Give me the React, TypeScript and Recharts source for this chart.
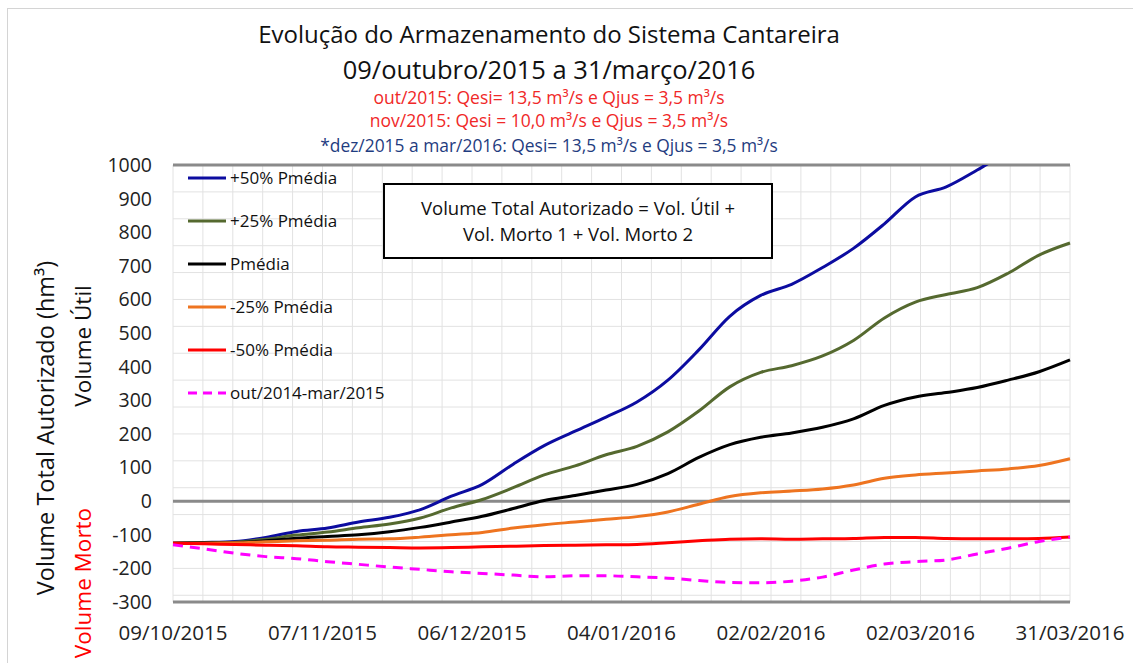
import React from "react";
import { CartesianGrid, Line, LineChart, ReferenceLine, XAxis, YAxis } from "recharts";

// days counted from 09/10/2015
const days = [0, 6, 12, 18, 24, 30, 36, 42, 48, 54, 60, 66, 72, 78, 84, 90, 96, 102, 108, 114, 120, 126, 132, 138, 144, 150, 156, 162, 168, 174];

const plus50 = [-125, -123, -120, -108, -90, -80, -62, -48, -25, 15, 50, 110, 165, 208, 250, 295, 360, 450, 550, 612, 645, 695, 752, 825, 905, 935, 985, 1040, 1085, 1130];
const plus25 = [-125, -124, -122, -113, -101, -92, -79, -68, -50, -20, 5, 40, 78, 105, 138, 163, 206, 268, 340, 383, 403, 432, 478, 545, 592, 615, 635, 678, 732, 768];
const pmedia = [-125, -124, -123, -118, -110, -105, -100, -91, -78, -62, -45, -22, 2, 17, 33, 50, 82, 130, 168, 190, 203, 220, 245, 285, 310, 323, 338, 360, 385, 420];
const minus25 = [-125, -125, -124, -121, -118, -116, -113, -112, -107, -100, -93, -80, -70, -62, -54, -46, -32, -9, 14, 25, 30, 36, 48, 68, 78, 84, 90, 96, 106, 126];
const minus50 = [-125, -127, -129, -131, -133, -136, -137, -138, -139, -138, -136, -134, -132, -131, -130, -129, -124, -118, -113, -112, -113, -112, -111, -108, -108, -111, -112, -112, -111, -107];
const prevYear = [-130, -142, -155, -165, -171, -180, -188, -196, -203, -210, -215, -220, -225, -222, -222, -225, -229, -236, -242, -243, -238, -226, -205, -187, -180, -175, -157, -140, -120, -107];

const xTickDays = [0, 29, 58, 87, 116, 145, 174];
const xTickLabels = ["09/10/2015", "07/11/2015", "06/12/2015", "04/01/2016", "02/02/2016", "02/03/2016", "31/03/2016"];
const yTicks = [-300, -200, -100, 0, 100, 200, 300, 400, 500, 600, 700, 800, 900, 1000];

const series = [
  { key: "p50", name: "+50% Pmédia", color: "#0c0ca0", values: plus50, dash: undefined },
  { key: "p25", name: "+25% Pmédia", color: "#55692f", values: plus25, dash: undefined },
  { key: "pm", name: "Pmédia", color: "#000000", values: pmedia, dash: undefined },
  { key: "m25", name: "-25% Pmédia", color: "#ee7420", values: minus25, dash: undefined },
  { key: "m50", name: "-50% Pmédia", color: "#ff0000", values: minus50, dash: undefined },
  { key: "prev", name: "out/2014-mar/2015", color: "#ff00ff", values: prevYear, dash: "10 7" },
];

const data = days.map((d, i) => {
  const row: Record<string, number> = { d };
  series.forEach((s) => (row[s.key] = s.values[i]));
  return row;
});

const vGrid = Array.from({ length: 31 }, (_, i) => i * 5.8);
const hGrid = Array.from({ length: 66 }, (_, i) => -300 + i * 20);

const FONT = '"Open Sans", sans-serif';

function LegendBox() {
  return (
    <div style={{ position: "absolute", left: 187, top: 156, fontFamily: FONT, fontSize: 17, color: "#111" }}>
      {series.map((s) => (
        <div key={s.key} style={{ display: "flex", alignItems: "center", height: 43 }}>
          <svg width={40} height={6} style={{ marginRight: 3 }}>
            <line x1={1} y1={3} x2={39} y2={3} stroke={s.color} strokeWidth={3} strokeDasharray={s.dash ? "9 6" : undefined} />
          </svg>
          <span>{s.name}</span>
        </div>
      ))}
    </div>
  );
}

const rotated = (left: number, top: number, size: number, color: string): React.CSSProperties => ({
  position: "absolute",
  left,
  top,
  transform: "translate(-50%, -50%) rotate(-90deg)",
  whiteSpace: "nowrap",
  fontSize: size,
  color,
});

export default function App() {
  return (
    <div style={{ position: "absolute", left: 0, top: 0, width: 1133, height: 663, background: "#fff", overflow: "hidden", fontFamily: FONT }}>
      <div style={{ position: "absolute", left: 7, top: 8, width: 1200, height: 700, borderLeft: "1px solid #d4d4d4", borderTop: "1px solid #d4d4d4" }} />
      <div style={{ position: "absolute", left: 0, width: 1098, top: 17, textAlign: "center", fontSize: 24, lineHeight: "34px", color: "#111" }}>
        Evolução do Armazenamento do Sistema Cantareira
      </div>
      <div style={{ position: "absolute", left: 0, width: 1098, top: 52, textAlign: "center", fontSize: 25.5, lineHeight: "34px", color: "#111" }}>
        09/outubro/2015 a 31/março/2016
      </div>
      <div style={{ position: "absolute", left: 0, width: 1098, top: 86, textAlign: "center", fontSize: 17.5, lineHeight: "23px", color: "#f02828" }}>
        out/2015: Qesi= 13,5 m³/s e Qjus = 3,5 m³/s
        <br />
        nov/2015: Qesi = 10,0 m³/s e Qjus = 3,5 m³/s
      </div>
      <div style={{ position: "absolute", left: 0, width: 1098, top: 133, textAlign: "center", fontSize: 17.4, lineHeight: "24px", color: "#1f3c80" }}>
        *dez/2015 a mar/2016: Qesi= 13,5 m³/s e Qjus = 3,5 m³/s
      </div>

      <div style={rotated(45, 428, 23.5, "#111")}>Volume Total Autorizado (hm³)</div>
      <div style={rotated(82, 346, 22.5, "#111")}>Volume Útil</div>
      <div style={rotated(82, 583, 22.5, "#ff0000")}>Volume Morto</div>

      <div style={{ position: "absolute", left: 0, top: 0 }}>
        <LineChart width={1133} height={663} data={data} margin={{ top: 165, right: 63, bottom: 20, left: 113 }}>
          <CartesianGrid stroke="#e2e2e2" strokeWidth={1} horizontalValues={hGrid} verticalValues={vGrid} />
          <XAxis
            xAxisId="minor"
            dataKey="d"
            type="number"
            domain={[0, 174]}
            ticks={vGrid}
            interval={0}
            tick={false}
            axisLine={false}
            tickLine={{ stroke: "#d8d8d8" }}
            tickSize={10}
            height={1}
          />
          <XAxis
            dataKey="d"
            type="number"
            domain={[0, 174]}
            ticks={xTickDays}
            interval={0}
            tickFormatter={(v: number) => xTickLabels[xTickDays.indexOf(v)]}
            axisLine={false}
            tickLine={false}
            tickSize={0}
            tickMargin={23}
            height={40}
            tick={{ fontSize: 20.5, fontFamily: FONT, fill: "#222" }}
          />
          <YAxis
            type="number"
            domain={[-300, 1000]}
            ticks={yTicks}
            allowDataOverflow
            axisLine={false}
            tickLine={false}
            tickSize={0}
            tickMargin={21}
            width={60}
            tick={{ fontSize: 19.5, fontFamily: FONT, fill: "#222" }}
          />
          <ReferenceLine y={1000} stroke="#8a8a8a" strokeWidth={3} />
          <ReferenceLine y={0} stroke="#8a8a8a" strokeWidth={3} />
          <ReferenceLine y={-300} stroke="#8a8a8a" strokeWidth={3} />
          {series.map((s) => (
            <Line
              key={s.key}
              dataKey={s.key}
              name={s.name}
              type="monotone"
              stroke={s.color}
              strokeWidth={3}
              strokeDasharray={s.dash}
              dot={false}
              isAnimationActive={false}
            />
          ))}
        </LineChart>
      </div>

      <LegendBox />

      <div style={{ position: "absolute", left: 383, top: 183, width: 386, height: 72, border: "2px solid #000", background: "#fff", textAlign: "center", fontSize: 18.5, lineHeight: "26px", color: "#111", display: "flex", flexDirection: "column", justifyContent: "center" }}>
        <div>Volume Total Autorizado = Vol. Útil +</div>
        <div>Vol. Morto 1 + Vol. Morto 2</div>
      </div>
    </div>
  );
}
